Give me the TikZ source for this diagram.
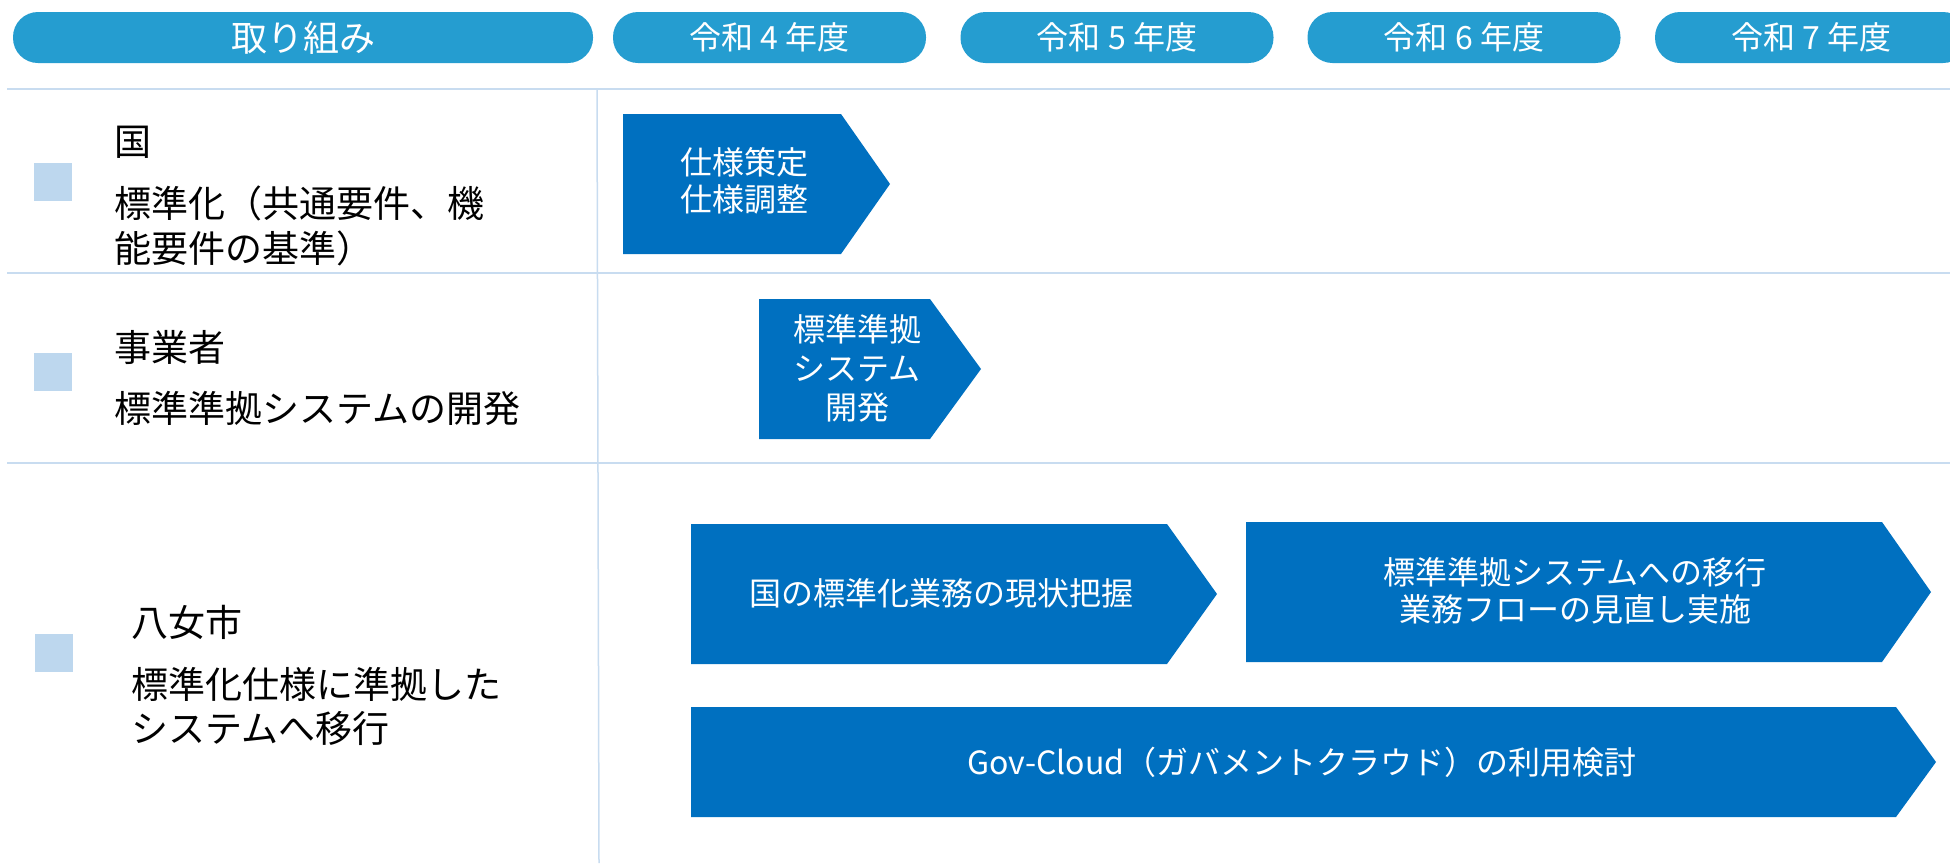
\documentclass[tikz,border=0pt]{standalone}
\usepackage{fontspec}
\setmainfont{Noto Sans CJK JP}
\definecolor{pillblue}{HTML}{259DD0}
\definecolor{chevblue}{HTML}{0070C0}
\definecolor{sqblue}{HTML}{BDD7EE}
\definecolor{gridblue}{HTML}{C8DCF0}
\begin{document}
\begin{tikzpicture}[x=1pt,y=-1pt,
  pill/.style={fill=pillblue, rounded corners=25pt, minimum height=51pt, inner sep=0pt, text=white,
    text height=28.16pt, text depth=3.84pt, font=\fontsize{32}{37}\selectfont},
  pillbig/.style={pill, text height=31.68pt, text depth=4.32pt, font=\fontsize{36}{42}\selectfont},
  chevshape/.style={fill=chevblue},
  gridline/.style={draw=gridblue, line width=1.5pt},
  sqbox/.style={fill=sqblue},
  lbl/.style={anchor=west, inner sep=0pt, text height=32.56pt, text depth=4.44pt, text=black,
    font=\fontsize{37}{45}\selectfont},
  ctext/.style={inner sep=0pt, text height=28.16pt, text depth=3.84pt, text=white,
    font=\fontsize{32}{37}\selectfont}]
\clip (0,0) rectangle (1950,863);
\fill[white] (0,0) rectangle (1950,863);
% header pills
\node[pillbig, minimum width=580pt] (h0) at (303,37.5) {取り組み};
\node[pill, minimum width=313pt] (h4) at (769.5,37.5) {令和 4 年度};
\node[pill, minimum width=313pt] (h5) at (1117,37.5) {令和 5 年度};
\node[pill, minimum width=313pt] (h6) at (1464,37.5) {令和 6 年度};
\node[pill, minimum width=313pt] (h7) at (1811.5,37.5) {令和 7 年度};
% grid lines
\draw[gridline] (7,89) -- (1950,89);
\draw[gridline] (7,273) -- (1950,273);
\draw[gridline] (7,463) -- (1950,463);
\draw[gridline] (597,89) -- (599,863);
% squares
\fill[sqbox] (34,163) rectangle (72,201);
\fill[sqbox] (34,353) rectangle (72,391);
\fill[sqbox] (35,634) rectangle (73,672);
% left labels
\node[lbl] (l1a) at (114,141) {国};
\node[lbl] (l1b) at (114,203) {標準化（共通要件、機};
\node[lbl] (l1c) at (114,248) {能要件の基準）};
\node[lbl] (l2a) at (114,347) {事業者};
\node[lbl] (l2b) at (114,408) {標準準拠システムの開発};
\node[lbl] (l3a) at (131,622) {八女市};
\node[lbl] (l3b) at (131,684) {標準化仕様に準拠した};
\node[lbl] (l3c) at (131,728) {システムへ移行};
% chevrons
\fill[chevshape] (623,114) -- (841,114) -- (890,184) -- (841,254) -- (623,254) -- cycle;
\node[ctext] (c1a) at (744,162) {仕様策定};
\node[ctext] (c1b) at (744,199) {仕様調整};
\fill[chevshape] (759,299) -- (930,299) -- (981,369) -- (930,439) -- (759,439) -- cycle;
\node[ctext] (c2a) at (857,329) {標準準拠};
\node[ctext] (c2b) at (857,368) {システム};
\node[ctext] (c2c) at (857,407) {開発};
\fill[chevshape] (691,524) -- (1167,524) -- (1217,594) -- (1167,664) -- (691,664) -- cycle;
\node[ctext] (c3) at (941,593) {国の標準化業務の現状把握};
\fill[chevshape] (1246,522) -- (1882,522) -- (1931,592) -- (1882,662) -- (1246,662) -- cycle;
\node[ctext] (c4a) at (1575,572) {標準準拠システムへの移行};
\node[ctext] (c4b) at (1575,609) {業務フローの見直し実施};
\fill[chevshape] (691,707) -- (1896,707) -- (1936,762) -- (1896,817) -- (691,817) -- cycle;
\node[ctext] (c5) at (1302,762) {Gov-Cloud（ガバメントクラウド）の利用検討};
\end{tikzpicture}
\end{document}
